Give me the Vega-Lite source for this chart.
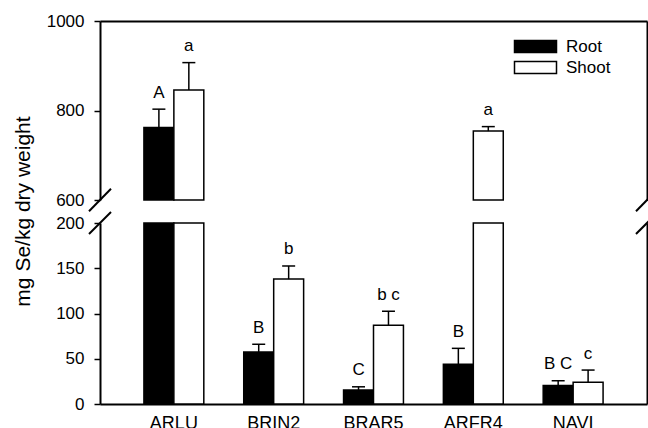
{
  "$schema": "https://vega.github.io/schema/vega-lite/v6.json",
  "autosize": {"type": "pad"},
  "padding": {"left": 12, "top": 12, "right": 0, "bottom": 0},
  "bounds": "flush",
  "spacing": 23,
  "config": {
    "font": "Liberation Sans",
    "view": {"stroke": null},
    "axis": {"grid": false, "domainColor": "black", "tickColor": "black", "labelColor": "black", "titleColor": "black", "domainWidth": 2, "tickWidth": 1.5}
  },
  "datasets": {
    "se": [
      {"site": "ARLU", "type": "Root", "value": 762, "upper": 803, "letter": "A"},
      {"site": "ARLU", "type": "Shoot", "value": 846, "upper": 907, "letter": "a"},
      {"site": "BRIN2", "type": "Root", "value": 57.5, "upper": 66, "letter": "B"},
      {"site": "BRIN2", "type": "Shoot", "value": 138, "upper": 152.5, "letter": "b"},
      {"site": "BRAR5", "type": "Root", "value": 15.5, "upper": 19, "letter": "C"},
      {"site": "BRAR5", "type": "Shoot", "value": 87, "upper": 102.5, "letter": "b c"},
      {"site": "ARFR4", "type": "Root", "value": 44, "upper": 61.5, "letter": "B"},
      {"site": "ARFR4", "type": "Shoot", "value": 754, "upper": 764, "letter": "a"},
      {"site": "NAVI", "type": "Root", "value": 20.5, "upper": 25.7, "letter": "B C"},
      {"site": "NAVI", "type": "Shoot", "value": 24, "upper": 37.5, "letter": "c"}
    ]
  },
  "vconcat": [
    {
      "width": 547,
      "height": 179,
      "data": {"name": "se"},
      "layer": [
        {
          "transform": [{"filter": "datum.value >= 600"}],
          "mark": {"type": "bar", "stroke": "black", "strokeWidth": 1.5},
          "encoding": {
            "x": {"field": "site", "type": "nominal", "scale": {"domain": ["ARLU", "BRIN2", "BRAR5", "ARFR4", "NAVI"], "paddingInner": 0.4, "paddingOuter": 0.44}, "axis": {"orient": "top", "labels": false, "ticks": false, "title": null}},
            "xOffset": {"field": "type", "type": "nominal", "scale": {"domain": ["Root", "Shoot"], "paddingInner": 0, "paddingOuter": 0}},
            "y": {"field": "value", "type": "quantitative", "scale": {"domain": [600, 1000], "zero": false}, "axis": {"values": [600, 800, 1000], "format": "d", "labelFontSize": 17, "tickSize": 6, "labelPadding": 10, "title": null}},
            "y2": {"datum": 600},
            "color": {"field": "type", "type": "nominal", "scale": {"domain": ["Root", "Shoot"], "range": ["black", "white"]},
              "legend": {"orient": "none", "legendX": 427, "legendY": 17, "title": null, "symbolType": "M-3.5,-1H3.5V1H-3.5Z", "symbolSize": 144, "symbolStrokeColor": "black", "symbolStrokeWidth": 1.5, "symbolOpacity": 1, "labelFontSize": 17, "labelOffset": 22, "rowPadding": 2, "padding": 0, "labelColor": "black"}}
          }
        },
        {
          "transform": [{"filter": "datum.value >= 600"}],
          "mark": {"type": "rule", "color": "black", "strokeWidth": 1.5},
          "encoding": {
            "x": {"field": "site", "type": "nominal", "scale": {"domain": ["ARLU", "BRIN2", "BRAR5", "ARFR4", "NAVI"], "paddingInner": 0.4, "paddingOuter": 0.44}, "axis": null},
            "xOffset": {"field": "type", "type": "nominal", "scale": {"domain": ["Root", "Shoot"], "paddingInner": 0, "paddingOuter": 0}},
            "y": {"field": "value", "type": "quantitative", "scale": {"domain": [600, 1000], "zero": false}, "axis": {"orient": "right", "labels": false, "ticks": false, "title": null}},
            "y2": {"field": "upper"}
          }
        },
        {
          "transform": [{"filter": "datum.value >= 600"}],
          "mark": {"type": "tick", "color": "black", "size": 13, "thickness": 1.5, "opacity": 1},
          "encoding": {
            "x": {"field": "site", "type": "nominal", "scale": {"domain": ["ARLU", "BRIN2", "BRAR5", "ARFR4", "NAVI"], "paddingInner": 0.4, "paddingOuter": 0.44}, "axis": null},
            "xOffset": {"field": "type", "type": "nominal", "scale": {"domain": ["Root", "Shoot"], "paddingInner": 0, "paddingOuter": 0}},
            "y": {"field": "upper", "type": "quantitative", "scale": {"domain": [600, 1000], "zero": false}, "axis": null}
          }
        },
        {
          "transform": [{"filter": "datum.value >= 600"}],
          "mark": {"type": "text", "color": "black", "fontSize": 17, "baseline": "alphabetic", "dy": -11.5},
          "encoding": {
            "x": {"field": "site", "type": "nominal", "scale": {"domain": ["ARLU", "BRIN2", "BRAR5", "ARFR4", "NAVI"], "paddingInner": 0.4, "paddingOuter": 0.44}, "axis": null},
            "xOffset": {"field": "type", "type": "nominal", "scale": {"domain": ["Root", "Shoot"], "paddingInner": 0, "paddingOuter": 0}},
            "y": {"field": "upper", "type": "quantitative", "scale": {"domain": [600, 1000], "zero": false}, "axis": null},
            "text": {"field": "letter"}
          }
        },
        {
          "data": {"values": [{}]},
          "mark": {"type": "rule", "color": "black", "strokeWidth": 2},
          "encoding": {
            "x": {"datum": -0.0201, "type": "quantitative", "scale": {"domain": [0, 1]}, "axis": null},
            "x2": {"datum": 0.0201},
            "y": {"datum": 575, "type": "quantitative", "scale": {"domain": [600, 1000], "zero": false}, "axis": null},
            "y2": {"datum": 625}
          }
        },
        {
          "data": {"values": [{}]},
          "mark": {"type": "rule", "color": "black", "strokeWidth": 2},
          "encoding": {
            "x": {"datum": 0.9799, "type": "quantitative", "scale": {"domain": [0, 1]}, "axis": null},
            "x2": {"datum": 1.0201},
            "y": {"datum": 575, "type": "quantitative", "scale": {"domain": [600, 1000], "zero": false}, "axis": null},
            "y2": {"datum": 625}
          }
        }
      ],
      "resolve": {"scale": {"x": "independent", "y": "independent"}}
    },
    {
      "width": 547,
      "height": 181,
      "data": {"name": "se"},
      "layer": [
        {
          "mark": {"type": "bar", "stroke": "black", "strokeWidth": 1.5},
          "encoding": {
            "x": {"field": "site", "type": "nominal", "scale": {"domain": ["ARLU", "BRIN2", "BRAR5", "ARFR4", "NAVI"], "paddingInner": 0.4, "paddingOuter": 0.44}, "axis": {"orient": "bottom", "labelFontSize": 18, "ticks": false, "labelPadding": 10, "title": null, "labelAngle": 0}},
            "xOffset": {"field": "type", "type": "nominal", "scale": {"domain": ["Root", "Shoot"], "paddingInner": 0, "paddingOuter": 0}},
            "y": {"field": "value", "type": "quantitative", "scale": {"domain": [0, 200], "clamp": true}, "axis": {"values": [0, 50, 100, 150, 200], "labelFontSize": 17, "tickSize": 6, "labelPadding": 10, "title": "mg Se/kg dry weight", "titleFontSize": 21, "titleFontWeight": "normal", "titleAngle": 270, "titleAlign": "center", "titleBaseline": "middle", "titleX": -76.5, "titleY": -12}},
            "color": {"field": "type", "type": "nominal", "scale": {"domain": ["Root", "Shoot"], "range": ["black", "white"]},
              "legend": {"orient": "none", "legendX": 427, "legendY": 17, "title": null, "symbolType": "M-3.5,-1H3.5V1H-3.5Z", "symbolSize": 144, "symbolStrokeColor": "black", "symbolStrokeWidth": 1.5, "symbolOpacity": 1, "labelFontSize": 17, "labelOffset": 22, "rowPadding": 2, "padding": 0, "labelColor": "black"}}
          }
        },
        {
          "transform": [{"filter": "datum.value < 200"}],
          "mark": {"type": "rule", "color": "black", "strokeWidth": 1.5},
          "encoding": {
            "x": {"field": "site", "type": "nominal", "scale": {"domain": ["ARLU", "BRIN2", "BRAR5", "ARFR4", "NAVI"], "paddingInner": 0.4, "paddingOuter": 0.44}, "axis": null},
            "xOffset": {"field": "type", "type": "nominal", "scale": {"domain": ["Root", "Shoot"], "paddingInner": 0, "paddingOuter": 0}},
            "y": {"field": "value", "type": "quantitative", "scale": {"domain": [0, 200]}, "axis": {"orient": "right", "labels": false, "ticks": false, "title": null}},
            "y2": {"field": "upper"}
          }
        },
        {
          "transform": [{"filter": "datum.value < 200"}],
          "mark": {"type": "tick", "color": "black", "size": 13, "thickness": 1.5, "opacity": 1},
          "encoding": {
            "x": {"field": "site", "type": "nominal", "scale": {"domain": ["ARLU", "BRIN2", "BRAR5", "ARFR4", "NAVI"], "paddingInner": 0.4, "paddingOuter": 0.44}, "axis": null},
            "xOffset": {"field": "type", "type": "nominal", "scale": {"domain": ["Root", "Shoot"], "paddingInner": 0, "paddingOuter": 0}},
            "y": {"field": "upper", "type": "quantitative", "scale": {"domain": [0, 200]}, "axis": null}
          }
        },
        {
          "transform": [{"filter": "datum.value < 200"}],
          "mark": {"type": "text", "color": "black", "fontSize": 17, "baseline": "alphabetic", "dy": -11.5},
          "encoding": {
            "x": {"field": "site", "type": "nominal", "scale": {"domain": ["ARLU", "BRIN2", "BRAR5", "ARFR4", "NAVI"], "paddingInner": 0.4, "paddingOuter": 0.44}, "axis": null},
            "xOffset": {"field": "type", "type": "nominal", "scale": {"domain": ["Root", "Shoot"], "paddingInner": 0, "paddingOuter": 0}},
            "y": {"field": "upper", "type": "quantitative", "scale": {"domain": [0, 200]}, "axis": null},
            "text": {"field": "letter"}
          }
        },
        {
          "data": {"values": [{}]},
          "mark": {"type": "rule", "color": "black", "strokeWidth": 2},
          "encoding": {
            "x": {"datum": -0.0201, "type": "quantitative", "scale": {"domain": [0, 1]}, "axis": null},
            "x2": {"datum": 0.0201},
            "y": {"datum": 187.8, "type": "quantitative", "scale": {"domain": [0, 200]}, "axis": null},
            "y2": {"datum": 212.2}
          }
        },
        {
          "data": {"values": [{}]},
          "mark": {"type": "rule", "color": "black", "strokeWidth": 2},
          "encoding": {
            "x": {"datum": 0.9799, "type": "quantitative", "scale": {"domain": [0, 1]}, "axis": null},
            "x2": {"datum": 1.0201},
            "y": {"datum": 187.8, "type": "quantitative", "scale": {"domain": [0, 200]}, "axis": null},
            "y2": {"datum": 212.2}
          }
        }
      ],
      "resolve": {"scale": {"x": "independent", "y": "independent"}}
    }
  ]
}
